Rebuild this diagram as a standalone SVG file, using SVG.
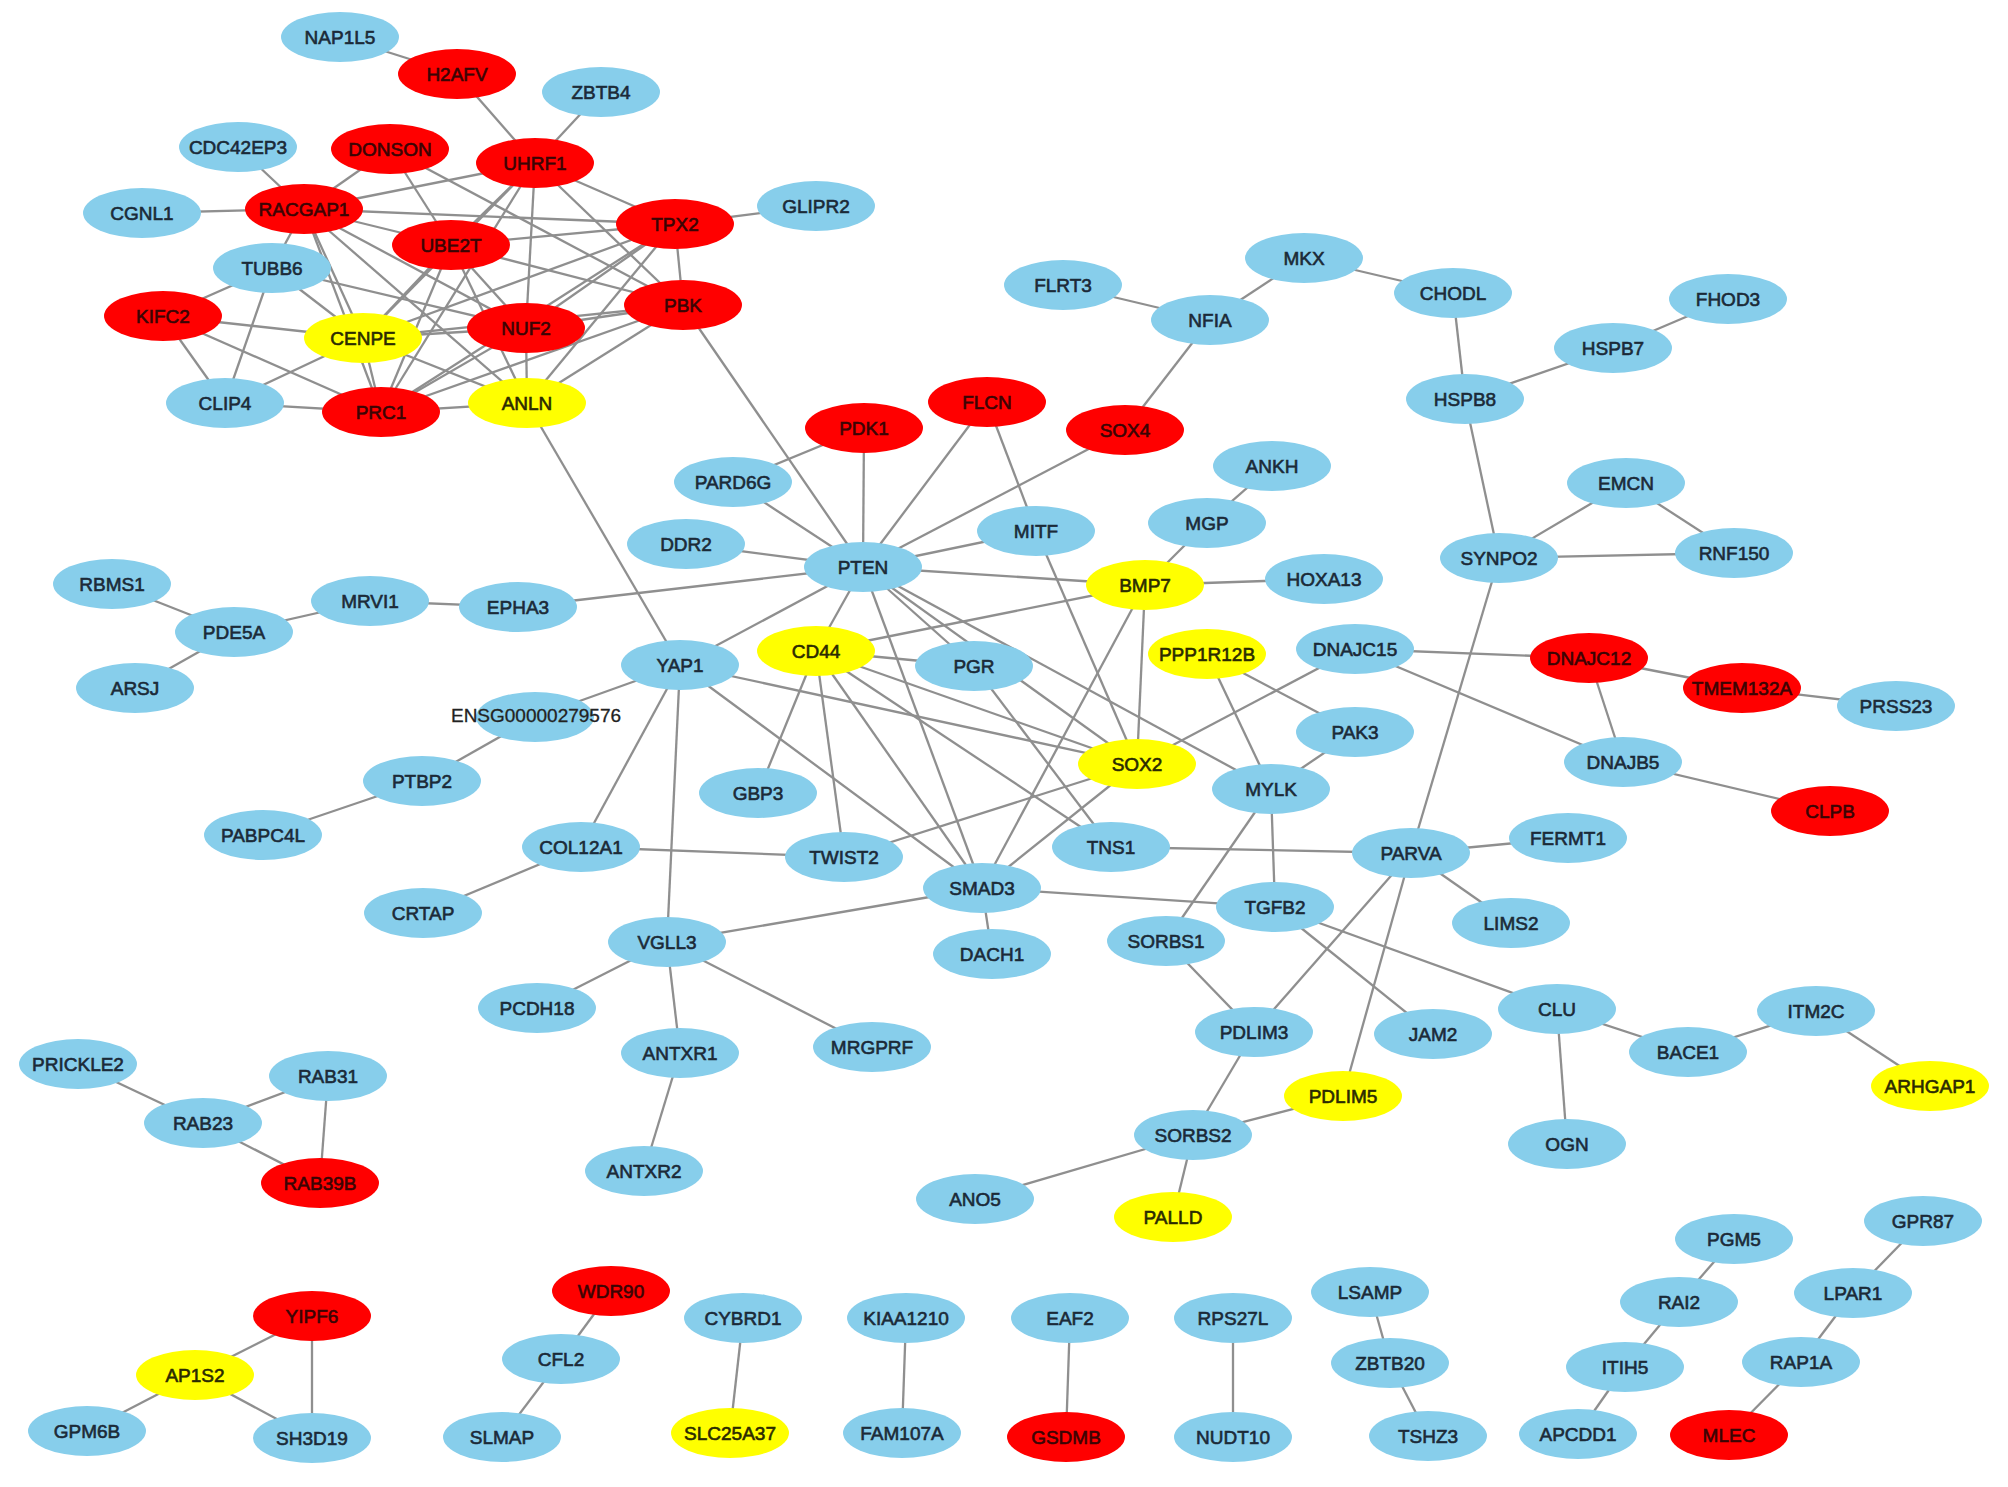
<svg xmlns="http://www.w3.org/2000/svg" width="2008" height="1487" viewBox="0 0 2008 1487">
<style>
.e line{stroke:#8f8f8f;stroke-width:2.3}
ellipse{stroke:none}
.b ellipse{fill:#87CEEB}
.r ellipse{fill:#FF0000}
.y ellipse{fill:#FFFF00}
text{font-family:"Liberation Sans",Arial,sans-serif;font-size:19px;text-anchor:middle;stroke-width:0.6}
.b text{fill:#1b2a38;stroke:#1b2a38}
.r text{fill:#3a0404;stroke:#3a0404}
.y text{fill:#2b2b00;stroke:#2b2b00}
</style>
<rect width="2008" height="1487" fill="#ffffff"/>
<g class="e">
<line x1="340" y1="37" x2="457" y2="74"/>
<line x1="457" y1="74" x2="535" y2="163"/>
<line x1="601" y1="92" x2="535" y2="163"/>
<line x1="238" y1="147" x2="304" y2="209"/>
<line x1="142" y1="213" x2="304" y2="209"/>
<line x1="675" y1="224" x2="816" y2="206"/>
<line x1="304" y1="209" x2="390" y2="149"/>
<line x1="304" y1="209" x2="535" y2="163"/>
<line x1="304" y1="209" x2="675" y2="224"/>
<line x1="304" y1="209" x2="451" y2="245"/>
<line x1="304" y1="209" x2="272" y2="268"/>
<line x1="304" y1="209" x2="363" y2="338"/>
<line x1="304" y1="209" x2="381" y2="412"/>
<line x1="304" y1="209" x2="526" y2="328"/>
<line x1="304" y1="209" x2="527" y2="403"/>
<line x1="390" y1="149" x2="451" y2="245"/>
<line x1="390" y1="149" x2="683" y2="305"/>
<line x1="535" y1="163" x2="675" y2="224"/>
<line x1="535" y1="163" x2="683" y2="305"/>
<line x1="535" y1="163" x2="526" y2="328"/>
<line x1="535" y1="163" x2="451" y2="245"/>
<line x1="535" y1="163" x2="363" y2="338"/>
<line x1="535" y1="163" x2="381" y2="412"/>
<line x1="451" y1="245" x2="675" y2="224"/>
<line x1="451" y1="245" x2="683" y2="305"/>
<line x1="451" y1="245" x2="526" y2="328"/>
<line x1="451" y1="245" x2="527" y2="403"/>
<line x1="451" y1="245" x2="381" y2="412"/>
<line x1="451" y1="245" x2="363" y2="338"/>
<line x1="675" y1="224" x2="683" y2="305"/>
<line x1="675" y1="224" x2="526" y2="328"/>
<line x1="675" y1="224" x2="527" y2="403"/>
<line x1="675" y1="224" x2="381" y2="412"/>
<line x1="675" y1="224" x2="363" y2="338"/>
<line x1="683" y1="305" x2="526" y2="328"/>
<line x1="683" y1="305" x2="527" y2="403"/>
<line x1="683" y1="305" x2="381" y2="412"/>
<line x1="683" y1="305" x2="363" y2="338"/>
<line x1="526" y1="328" x2="363" y2="338"/>
<line x1="526" y1="328" x2="527" y2="403"/>
<line x1="526" y1="328" x2="381" y2="412"/>
<line x1="526" y1="328" x2="272" y2="268"/>
<line x1="527" y1="403" x2="381" y2="412"/>
<line x1="527" y1="403" x2="363" y2="338"/>
<line x1="381" y1="412" x2="363" y2="338"/>
<line x1="381" y1="412" x2="163" y2="316"/>
<line x1="381" y1="412" x2="225" y2="403"/>
<line x1="363" y1="338" x2="163" y2="316"/>
<line x1="363" y1="338" x2="272" y2="268"/>
<line x1="363" y1="338" x2="225" y2="403"/>
<line x1="163" y1="316" x2="272" y2="268"/>
<line x1="163" y1="316" x2="225" y2="403"/>
<line x1="272" y1="268" x2="225" y2="403"/>
<line x1="683" y1="305" x2="863" y2="567"/>
<line x1="527" y1="403" x2="680" y2="665"/>
<line x1="863" y1="567" x2="864" y2="428"/>
<line x1="863" y1="567" x2="987" y2="402"/>
<line x1="863" y1="567" x2="1125" y2="430"/>
<line x1="863" y1="567" x2="733" y2="482"/>
<line x1="863" y1="567" x2="686" y2="544"/>
<line x1="863" y1="567" x2="518" y2="607"/>
<line x1="863" y1="567" x2="1036" y2="531"/>
<line x1="863" y1="567" x2="1145" y2="585"/>
<line x1="863" y1="567" x2="680" y2="665"/>
<line x1="863" y1="567" x2="816" y2="651"/>
<line x1="863" y1="567" x2="982" y2="888"/>
<line x1="863" y1="567" x2="974" y2="666"/>
<line x1="863" y1="567" x2="1137" y2="764"/>
<line x1="863" y1="567" x2="1271" y2="789"/>
<line x1="864" y1="428" x2="733" y2="482"/>
<line x1="987" y1="402" x2="1036" y2="531"/>
<line x1="1125" y1="430" x2="1210" y2="320"/>
<line x1="1210" y1="320" x2="1063" y2="285"/>
<line x1="1210" y1="320" x2="1304" y2="258"/>
<line x1="1304" y1="258" x2="1453" y2="293"/>
<line x1="1453" y1="293" x2="1465" y2="399"/>
<line x1="1465" y1="399" x2="1613" y2="348"/>
<line x1="1613" y1="348" x2="1728" y2="299"/>
<line x1="1465" y1="399" x2="1499" y2="558"/>
<line x1="1499" y1="558" x2="1626" y2="483"/>
<line x1="1499" y1="558" x2="1734" y2="553"/>
<line x1="1626" y1="483" x2="1734" y2="553"/>
<line x1="1499" y1="558" x2="1411" y2="853"/>
<line x1="1036" y1="531" x2="1137" y2="764"/>
<line x1="1207" y1="523" x2="1272" y2="466"/>
<line x1="1207" y1="523" x2="1145" y2="585"/>
<line x1="1145" y1="585" x2="1324" y2="579"/>
<line x1="1145" y1="585" x2="816" y2="651"/>
<line x1="1145" y1="585" x2="1137" y2="764"/>
<line x1="1145" y1="585" x2="982" y2="888"/>
<line x1="518" y1="607" x2="370" y2="601"/>
<line x1="370" y1="601" x2="234" y2="632"/>
<line x1="234" y1="632" x2="112" y2="584"/>
<line x1="234" y1="632" x2="135" y2="688"/>
<line x1="680" y1="665" x2="535" y2="717"/>
<line x1="535" y1="717" x2="422" y2="781"/>
<line x1="422" y1="781" x2="263" y2="835"/>
<line x1="680" y1="665" x2="581" y2="847"/>
<line x1="680" y1="665" x2="667" y2="942"/>
<line x1="680" y1="665" x2="1137" y2="764"/>
<line x1="680" y1="665" x2="982" y2="888"/>
<line x1="581" y1="847" x2="423" y2="913"/>
<line x1="581" y1="847" x2="844" y2="857"/>
<line x1="816" y1="651" x2="974" y2="666"/>
<line x1="816" y1="651" x2="758" y2="793"/>
<line x1="816" y1="651" x2="844" y2="857"/>
<line x1="816" y1="651" x2="982" y2="888"/>
<line x1="816" y1="651" x2="1111" y2="847"/>
<line x1="816" y1="651" x2="1137" y2="764"/>
<line x1="974" y1="666" x2="1111" y2="847"/>
<line x1="1137" y1="764" x2="844" y2="857"/>
<line x1="1137" y1="764" x2="982" y2="888"/>
<line x1="1137" y1="764" x2="1355" y2="649"/>
<line x1="982" y1="888" x2="667" y2="942"/>
<line x1="982" y1="888" x2="992" y2="954"/>
<line x1="982" y1="888" x2="1275" y2="907"/>
<line x1="1111" y1="847" x2="1411" y2="853"/>
<line x1="1207" y1="654" x2="1271" y2="789"/>
<line x1="1207" y1="654" x2="1355" y2="732"/>
<line x1="1271" y1="789" x2="1355" y2="732"/>
<line x1="1271" y1="789" x2="1275" y2="907"/>
<line x1="1271" y1="789" x2="1166" y2="941"/>
<line x1="1355" y1="649" x2="1589" y2="658"/>
<line x1="1355" y1="649" x2="1623" y2="762"/>
<line x1="1589" y1="658" x2="1623" y2="762"/>
<line x1="1589" y1="658" x2="1742" y2="688"/>
<line x1="1742" y1="688" x2="1896" y2="706"/>
<line x1="1623" y1="762" x2="1830" y2="811"/>
<line x1="1411" y1="853" x2="1568" y2="838"/>
<line x1="1411" y1="853" x2="1511" y2="923"/>
<line x1="1411" y1="853" x2="1254" y2="1032"/>
<line x1="1411" y1="853" x2="1343" y2="1096"/>
<line x1="1275" y1="907" x2="1557" y2="1009"/>
<line x1="1275" y1="907" x2="1433" y2="1034"/>
<line x1="1166" y1="941" x2="1254" y2="1032"/>
<line x1="1254" y1="1032" x2="1193" y2="1135"/>
<line x1="1193" y1="1135" x2="1343" y2="1096"/>
<line x1="1193" y1="1135" x2="975" y2="1199"/>
<line x1="1193" y1="1135" x2="1173" y2="1217"/>
<line x1="1557" y1="1009" x2="1688" y2="1052"/>
<line x1="1557" y1="1009" x2="1567" y2="1144"/>
<line x1="1688" y1="1052" x2="1816" y2="1011"/>
<line x1="1816" y1="1011" x2="1930" y2="1086"/>
<line x1="667" y1="942" x2="537" y2="1008"/>
<line x1="667" y1="942" x2="680" y2="1053"/>
<line x1="667" y1="942" x2="872" y2="1047"/>
<line x1="680" y1="1053" x2="644" y2="1171"/>
<line x1="78" y1="1064" x2="203" y2="1123"/>
<line x1="203" y1="1123" x2="328" y2="1076"/>
<line x1="203" y1="1123" x2="320" y2="1183"/>
<line x1="328" y1="1076" x2="320" y2="1183"/>
<line x1="312" y1="1316" x2="195" y2="1375"/>
<line x1="312" y1="1316" x2="312" y2="1438"/>
<line x1="195" y1="1375" x2="87" y2="1431"/>
<line x1="195" y1="1375" x2="312" y2="1438"/>
<line x1="611" y1="1291" x2="561" y2="1359"/>
<line x1="561" y1="1359" x2="502" y2="1437"/>
<line x1="743" y1="1318" x2="730" y2="1433"/>
<line x1="906" y1="1318" x2="902" y2="1433"/>
<line x1="1070" y1="1318" x2="1066" y2="1437"/>
<line x1="1233" y1="1318" x2="1233" y2="1437"/>
<line x1="1370" y1="1292" x2="1390" y2="1363"/>
<line x1="1390" y1="1363" x2="1428" y2="1436"/>
<line x1="1734" y1="1239" x2="1679" y2="1302"/>
<line x1="1679" y1="1302" x2="1625" y2="1367"/>
<line x1="1625" y1="1367" x2="1578" y2="1434"/>
<line x1="1923" y1="1221" x2="1853" y2="1293"/>
<line x1="1853" y1="1293" x2="1801" y2="1362"/>
<line x1="1801" y1="1362" x2="1729" y2="1435"/>
</g>
<g id="n-NAP1L5" class="b"><ellipse cx="340" cy="37" rx="59" ry="25"/><text x="340" y="44">NAP1L5</text></g>
<g id="n-H2AFV" class="r"><ellipse cx="457" cy="74" rx="59" ry="25"/><text x="457" y="81">H2AFV</text></g>
<g id="n-ZBTB4" class="b"><ellipse cx="601" cy="92" rx="59" ry="25"/><text x="601" y="99">ZBTB4</text></g>
<g id="n-CDC42EP3" class="b"><ellipse cx="238" cy="147" rx="59" ry="25"/><text x="238" y="154">CDC42EP3</text></g>
<g id="n-DONSON" class="r"><ellipse cx="390" cy="149" rx="59" ry="25"/><text x="390" y="156">DONSON</text></g>
<g id="n-UHRF1" class="r"><ellipse cx="535" cy="163" rx="59" ry="25"/><text x="535" y="170">UHRF1</text></g>
<g id="n-CGNL1" class="b"><ellipse cx="142" cy="213" rx="59" ry="25"/><text x="142" y="220">CGNL1</text></g>
<g id="n-RACGAP1" class="r"><ellipse cx="304" cy="209" rx="59" ry="25"/><text x="304" y="216">RACGAP1</text></g>
<g id="n-UBE2T" class="r"><ellipse cx="451" cy="245" rx="59" ry="25"/><text x="451" y="252">UBE2T</text></g>
<g id="n-TPX2" class="r"><ellipse cx="675" cy="224" rx="59" ry="25"/><text x="675" y="231">TPX2</text></g>
<g id="n-GLIPR2" class="b"><ellipse cx="816" cy="206" rx="59" ry="25"/><text x="816" y="213">GLIPR2</text></g>
<g id="n-TUBB6" class="b"><ellipse cx="272" cy="268" rx="59" ry="25"/><text x="272" y="275">TUBB6</text></g>
<g id="n-KIFC2" class="r"><ellipse cx="163" cy="316" rx="59" ry="25"/><text x="163" y="323">KIFC2</text></g>
<g id="n-CENPE" class="y"><ellipse cx="363" cy="338" rx="59" ry="25"/><text x="363" y="345">CENPE</text></g>
<g id="n-NUF2" class="r"><ellipse cx="526" cy="328" rx="59" ry="25"/><text x="526" y="335">NUF2</text></g>
<g id="n-PBK" class="r"><ellipse cx="683" cy="305" rx="59" ry="25"/><text x="683" y="312">PBK</text></g>
<g id="n-CLIP4" class="b"><ellipse cx="225" cy="403" rx="59" ry="25"/><text x="225" y="410">CLIP4</text></g>
<g id="n-PRC1" class="r"><ellipse cx="381" cy="412" rx="59" ry="25"/><text x="381" y="419">PRC1</text></g>
<g id="n-ANLN" class="y"><ellipse cx="527" cy="403" rx="59" ry="25"/><text x="527" y="410">ANLN</text></g>
<g id="n-FLRT3" class="b"><ellipse cx="1063" cy="285" rx="59" ry="25"/><text x="1063" y="292">FLRT3</text></g>
<g id="n-MKX" class="b"><ellipse cx="1304" cy="258" rx="59" ry="25"/><text x="1304" y="265">MKX</text></g>
<g id="n-NFIA" class="b"><ellipse cx="1210" cy="320" rx="59" ry="25"/><text x="1210" y="327">NFIA</text></g>
<g id="n-CHODL" class="b"><ellipse cx="1453" cy="293" rx="59" ry="25"/><text x="1453" y="300">CHODL</text></g>
<g id="n-FHOD3" class="b"><ellipse cx="1728" cy="299" rx="59" ry="25"/><text x="1728" y="306">FHOD3</text></g>
<g id="n-HSPB7" class="b"><ellipse cx="1613" cy="348" rx="59" ry="25"/><text x="1613" y="355">HSPB7</text></g>
<g id="n-HSPB8" class="b"><ellipse cx="1465" cy="399" rx="59" ry="25"/><text x="1465" y="406">HSPB8</text></g>
<g id="n-PDK1" class="r"><ellipse cx="864" cy="428" rx="59" ry="25"/><text x="864" y="435">PDK1</text></g>
<g id="n-FLCN" class="r"><ellipse cx="987" cy="402" rx="59" ry="25"/><text x="987" y="409">FLCN</text></g>
<g id="n-SOX4" class="r"><ellipse cx="1125" cy="430" rx="59" ry="25"/><text x="1125" y="437">SOX4</text></g>
<g id="n-PARD6G" class="b"><ellipse cx="733" cy="482" rx="59" ry="25"/><text x="733" y="489">PARD6G</text></g>
<g id="n-ANKH" class="b"><ellipse cx="1272" cy="466" rx="59" ry="25"/><text x="1272" y="473">ANKH</text></g>
<g id="n-EMCN" class="b"><ellipse cx="1626" cy="483" rx="59" ry="25"/><text x="1626" y="490">EMCN</text></g>
<g id="n-MITF" class="b"><ellipse cx="1036" cy="531" rx="59" ry="25"/><text x="1036" y="538">MITF</text></g>
<g id="n-MGP" class="b"><ellipse cx="1207" cy="523" rx="59" ry="25"/><text x="1207" y="530">MGP</text></g>
<g id="n-DDR2" class="b"><ellipse cx="686" cy="544" rx="59" ry="25"/><text x="686" y="551">DDR2</text></g>
<g id="n-PTEN" class="b"><ellipse cx="863" cy="567" rx="59" ry="25"/><text x="863" y="574">PTEN</text></g>
<g id="n-BMP7" class="y"><ellipse cx="1145" cy="585" rx="59" ry="25"/><text x="1145" y="592">BMP7</text></g>
<g id="n-HOXA13" class="b"><ellipse cx="1324" cy="579" rx="59" ry="25"/><text x="1324" y="586">HOXA13</text></g>
<g id="n-SYNPO2" class="b"><ellipse cx="1499" cy="558" rx="59" ry="25"/><text x="1499" y="565">SYNPO2</text></g>
<g id="n-RNF150" class="b"><ellipse cx="1734" cy="553" rx="59" ry="25"/><text x="1734" y="560">RNF150</text></g>
<g id="n-RBMS1" class="b"><ellipse cx="112" cy="584" rx="59" ry="25"/><text x="112" y="591">RBMS1</text></g>
<g id="n-MRVI1" class="b"><ellipse cx="370" cy="601" rx="59" ry="25"/><text x="370" y="608">MRVI1</text></g>
<g id="n-EPHA3" class="b"><ellipse cx="518" cy="607" rx="59" ry="25"/><text x="518" y="614">EPHA3</text></g>
<g id="n-PDE5A" class="b"><ellipse cx="234" cy="632" rx="59" ry="25"/><text x="234" y="639">PDE5A</text></g>
<g id="n-ARSJ" class="b"><ellipse cx="135" cy="688" rx="59" ry="25"/><text x="135" y="695">ARSJ</text></g>
<g id="n-YAP1" class="b"><ellipse cx="680" cy="665" rx="59" ry="25"/><text x="680" y="672">YAP1</text></g>
<g id="n-CD44" class="y"><ellipse cx="816" cy="651" rx="59" ry="25"/><text x="816" y="658">CD44</text></g>
<g id="n-PGR" class="b"><ellipse cx="974" cy="666" rx="59" ry="25"/><text x="974" y="673">PGR</text></g>
<g id="n-PPP1R12B" class="y"><ellipse cx="1207" cy="654" rx="59" ry="25"/><text x="1207" y="661">PPP1R12B</text></g>
<g id="n-DNAJC15" class="b"><ellipse cx="1355" cy="649" rx="59" ry="25"/><text x="1355" y="656">DNAJC15</text></g>
<g id="n-DNAJC12" class="r"><ellipse cx="1589" cy="658" rx="59" ry="25"/><text x="1589" y="665">DNAJC12</text></g>
<g id="n-TMEM132A" class="r"><ellipse cx="1742" cy="688" rx="59" ry="25"/><text x="1742" y="695">TMEM132A</text></g>
<g id="n-PRSS23" class="b"><ellipse cx="1896" cy="706" rx="59" ry="25"/><text x="1896" y="713">PRSS23</text></g>
<g id="n-ENSG00000279576" class="b"><ellipse cx="535" cy="717" rx="59" ry="25"/><text x="536" y="722" style="fill:#222;stroke:#222;stroke-width:0.3">ENSG00000279576</text></g>
<g id="n-PAK3" class="b"><ellipse cx="1355" cy="732" rx="59" ry="25"/><text x="1355" y="739">PAK3</text></g>
<g id="n-SOX2" class="y"><ellipse cx="1137" cy="764" rx="59" ry="25"/><text x="1137" y="771">SOX2</text></g>
<g id="n-DNAJB5" class="b"><ellipse cx="1623" cy="762" rx="59" ry="25"/><text x="1623" y="769">DNAJB5</text></g>
<g id="n-MYLK" class="b"><ellipse cx="1271" cy="789" rx="59" ry="25"/><text x="1271" y="796">MYLK</text></g>
<g id="n-PTBP2" class="b"><ellipse cx="422" cy="781" rx="59" ry="25"/><text x="422" y="788">PTBP2</text></g>
<g id="n-GBP3" class="b"><ellipse cx="758" cy="793" rx="59" ry="25"/><text x="758" y="800">GBP3</text></g>
<g id="n-CLPB" class="r"><ellipse cx="1830" cy="811" rx="59" ry="25"/><text x="1830" y="818">CLPB</text></g>
<g id="n-PABPC4L" class="b"><ellipse cx="263" cy="835" rx="59" ry="25"/><text x="263" y="842">PABPC4L</text></g>
<g id="n-COL12A1" class="b"><ellipse cx="581" cy="847" rx="59" ry="25"/><text x="581" y="854">COL12A1</text></g>
<g id="n-TWIST2" class="b"><ellipse cx="844" cy="857" rx="59" ry="25"/><text x="844" y="864">TWIST2</text></g>
<g id="n-TNS1" class="b"><ellipse cx="1111" cy="847" rx="59" ry="25"/><text x="1111" y="854">TNS1</text></g>
<g id="n-FERMT1" class="b"><ellipse cx="1568" cy="838" rx="59" ry="25"/><text x="1568" y="845">FERMT1</text></g>
<g id="n-PARVA" class="b"><ellipse cx="1411" cy="853" rx="59" ry="25"/><text x="1411" y="860">PARVA</text></g>
<g id="n-SMAD3" class="b"><ellipse cx="982" cy="888" rx="59" ry="25"/><text x="982" y="895">SMAD3</text></g>
<g id="n-TGFB2" class="b"><ellipse cx="1275" cy="907" rx="59" ry="25"/><text x="1275" y="914">TGFB2</text></g>
<g id="n-CRTAP" class="b"><ellipse cx="423" cy="913" rx="59" ry="25"/><text x="423" y="920">CRTAP</text></g>
<g id="n-LIMS2" class="b"><ellipse cx="1511" cy="923" rx="59" ry="25"/><text x="1511" y="930">LIMS2</text></g>
<g id="n-VGLL3" class="b"><ellipse cx="667" cy="942" rx="59" ry="25"/><text x="667" y="949">VGLL3</text></g>
<g id="n-SORBS1" class="b"><ellipse cx="1166" cy="941" rx="59" ry="25"/><text x="1166" y="948">SORBS1</text></g>
<g id="n-DACH1" class="b"><ellipse cx="992" cy="954" rx="59" ry="25"/><text x="992" y="961">DACH1</text></g>
<g id="n-PCDH18" class="b"><ellipse cx="537" cy="1008" rx="59" ry="25"/><text x="537" y="1015">PCDH18</text></g>
<g id="n-CLU" class="b"><ellipse cx="1557" cy="1009" rx="59" ry="25"/><text x="1557" y="1016">CLU</text></g>
<g id="n-ITM2C" class="b"><ellipse cx="1816" cy="1011" rx="59" ry="25"/><text x="1816" y="1018">ITM2C</text></g>
<g id="n-PDLIM3" class="b"><ellipse cx="1254" cy="1032" rx="59" ry="25"/><text x="1254" y="1039">PDLIM3</text></g>
<g id="n-JAM2" class="b"><ellipse cx="1433" cy="1034" rx="59" ry="25"/><text x="1433" y="1041">JAM2</text></g>
<g id="n-MRGPRF" class="b"><ellipse cx="872" cy="1047" rx="59" ry="25"/><text x="872" y="1054">MRGPRF</text></g>
<g id="n-ANTXR1" class="b"><ellipse cx="680" cy="1053" rx="59" ry="25"/><text x="680" y="1060">ANTXR1</text></g>
<g id="n-BACE1" class="b"><ellipse cx="1688" cy="1052" rx="59" ry="25"/><text x="1688" y="1059">BACE1</text></g>
<g id="n-PRICKLE2" class="b"><ellipse cx="78" cy="1064" rx="59" ry="25"/><text x="78" y="1071">PRICKLE2</text></g>
<g id="n-RAB31" class="b"><ellipse cx="328" cy="1076" rx="59" ry="25"/><text x="328" y="1083">RAB31</text></g>
<g id="n-ARHGAP1" class="y"><ellipse cx="1930" cy="1086" rx="59" ry="25"/><text x="1930" y="1093">ARHGAP1</text></g>
<g id="n-PDLIM5" class="y"><ellipse cx="1343" cy="1096" rx="59" ry="25"/><text x="1343" y="1103">PDLIM5</text></g>
<g id="n-RAB23" class="b"><ellipse cx="203" cy="1123" rx="59" ry="25"/><text x="203" y="1130">RAB23</text></g>
<g id="n-SORBS2" class="b"><ellipse cx="1193" cy="1135" rx="59" ry="25"/><text x="1193" y="1142">SORBS2</text></g>
<g id="n-OGN" class="b"><ellipse cx="1567" cy="1144" rx="59" ry="25"/><text x="1567" y="1151">OGN</text></g>
<g id="n-ANTXR2" class="b"><ellipse cx="644" cy="1171" rx="59" ry="25"/><text x="644" y="1178">ANTXR2</text></g>
<g id="n-RAB39B" class="r"><ellipse cx="320" cy="1183" rx="59" ry="25"/><text x="320" y="1190">RAB39B</text></g>
<g id="n-ANO5" class="b"><ellipse cx="975" cy="1199" rx="59" ry="25"/><text x="975" y="1206">ANO5</text></g>
<g id="n-PALLD" class="y"><ellipse cx="1173" cy="1217" rx="59" ry="25"/><text x="1173" y="1224">PALLD</text></g>
<g id="n-GPR87" class="b"><ellipse cx="1923" cy="1221" rx="59" ry="25"/><text x="1923" y="1228">GPR87</text></g>
<g id="n-PGM5" class="b"><ellipse cx="1734" cy="1239" rx="59" ry="25"/><text x="1734" y="1246">PGM5</text></g>
<g id="n-WDR90" class="r"><ellipse cx="611" cy="1291" rx="59" ry="25"/><text x="611" y="1298">WDR90</text></g>
<g id="n-LSAMP" class="b"><ellipse cx="1370" cy="1292" rx="59" ry="25"/><text x="1370" y="1299">LSAMP</text></g>
<g id="n-LPAR1" class="b"><ellipse cx="1853" cy="1293" rx="59" ry="25"/><text x="1853" y="1300">LPAR1</text></g>
<g id="n-RAI2" class="b"><ellipse cx="1679" cy="1302" rx="59" ry="25"/><text x="1679" y="1309">RAI2</text></g>
<g id="n-YIPF6" class="r"><ellipse cx="312" cy="1316" rx="59" ry="25"/><text x="312" y="1323">YIPF6</text></g>
<g id="n-CYBRD1" class="b"><ellipse cx="743" cy="1318" rx="59" ry="25"/><text x="743" y="1325">CYBRD1</text></g>
<g id="n-KIAA1210" class="b"><ellipse cx="906" cy="1318" rx="59" ry="25"/><text x="906" y="1325">KIAA1210</text></g>
<g id="n-EAF2" class="b"><ellipse cx="1070" cy="1318" rx="59" ry="25"/><text x="1070" y="1325">EAF2</text></g>
<g id="n-RPS27L" class="b"><ellipse cx="1233" cy="1318" rx="59" ry="25"/><text x="1233" y="1325">RPS27L</text></g>
<g id="n-CFL2" class="b"><ellipse cx="561" cy="1359" rx="59" ry="25"/><text x="561" y="1366">CFL2</text></g>
<g id="n-ZBTB20" class="b"><ellipse cx="1390" cy="1363" rx="59" ry="25"/><text x="1390" y="1370">ZBTB20</text></g>
<g id="n-ITIH5" class="b"><ellipse cx="1625" cy="1367" rx="59" ry="25"/><text x="1625" y="1374">ITIH5</text></g>
<g id="n-RAP1A" class="b"><ellipse cx="1801" cy="1362" rx="59" ry="25"/><text x="1801" y="1369">RAP1A</text></g>
<g id="n-AP1S2" class="y"><ellipse cx="195" cy="1375" rx="59" ry="25"/><text x="195" y="1382">AP1S2</text></g>
<g id="n-GPM6B" class="b"><ellipse cx="87" cy="1431" rx="59" ry="25"/><text x="87" y="1438">GPM6B</text></g>
<g id="n-SH3D19" class="b"><ellipse cx="312" cy="1438" rx="59" ry="25"/><text x="312" y="1445">SH3D19</text></g>
<g id="n-SLMAP" class="b"><ellipse cx="502" cy="1437" rx="59" ry="25"/><text x="502" y="1444">SLMAP</text></g>
<g id="n-SLC25A37" class="y"><ellipse cx="730" cy="1433" rx="59" ry="25"/><text x="730" y="1440">SLC25A37</text></g>
<g id="n-FAM107A" class="b"><ellipse cx="902" cy="1433" rx="59" ry="25"/><text x="902" y="1440">FAM107A</text></g>
<g id="n-GSDMB" class="r"><ellipse cx="1066" cy="1437" rx="59" ry="25"/><text x="1066" y="1444">GSDMB</text></g>
<g id="n-NUDT10" class="b"><ellipse cx="1233" cy="1437" rx="59" ry="25"/><text x="1233" y="1444">NUDT10</text></g>
<g id="n-TSHZ3" class="b"><ellipse cx="1428" cy="1436" rx="59" ry="25"/><text x="1428" y="1443">TSHZ3</text></g>
<g id="n-APCDD1" class="b"><ellipse cx="1578" cy="1434" rx="59" ry="25"/><text x="1578" y="1441">APCDD1</text></g>
<g id="n-MLEC" class="r"><ellipse cx="1729" cy="1435" rx="59" ry="25"/><text x="1729" y="1442">MLEC</text></g>
</svg>
